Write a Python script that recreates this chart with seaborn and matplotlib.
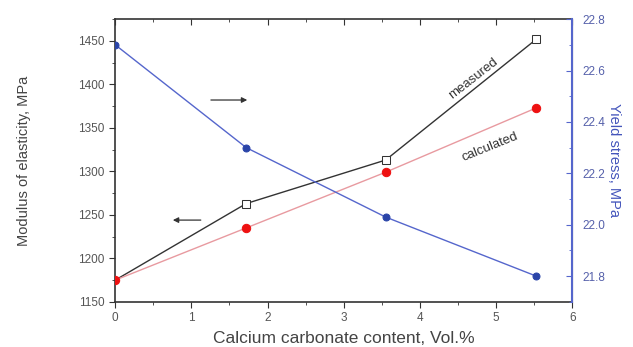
import numpy as np
import pandas as pd
import seaborn as sns
import matplotlib
matplotlib.use('Agg')
import matplotlib.pyplot as plt
from matplotlib.ticker import MultipleLocator

# data
content = [0.0, 1.72, 3.55, 5.53]
measured = [1175, 1263, 1313, 1452]
calculated = [1175, 1235, 1299, 1373]
yield_stress = [22.70, 22.30, 22.03, 21.80]

sns.set_style("ticks")
plt.rcParams['font.family'] = ['Liberation Sans', 'DejaVu Sans']

grey = '#555555'
blue_line = '#5566cc'
blue_dot = '#2a44a8'

fig = plt.figure(figsize=(6.33, 3.47), dpi=100)
ax = fig.add_axes([0.182, 0.130, 0.722, 0.815])

df = pd.DataFrame({'x': content, 'measured': measured, 'calculated': calculated,
                   'ys': yield_stress})

# first measured point sits under the red dot, so no square there
sns.lineplot(data=df, x='x', y='measured', ax=ax, color='#333333', lw=1,
             marker='s', markersize=5.5, markerfacecolor='white',
             markeredgecolor='#333333', markevery=[1, 2, 3], zorder=3)
sns.lineplot(data=df, x='x', y='calculated', ax=ax, color='#e89aa0', lw=1,
             marker='o', markersize=6, markerfacecolor='#ee1111',
             markeredgecolor='#ee1111', zorder=4)

ax.set_xlim(0, 6)
ax.set_ylim(1150, 1475)
ax.xaxis.set_major_locator(MultipleLocator(1))
ax.xaxis.set_minor_locator(MultipleLocator(0.5))
ax.yaxis.set_major_locator(MultipleLocator(50))
ax.yaxis.set_minor_locator(MultipleLocator(25))
ax.tick_params(axis='both', which='both', direction='out', colors='#333333',
               labelcolor=grey, labelsize=8.5)
ax.tick_params(which='major', length=4)
ax.tick_params(which='minor', length=2.5)
ax.tick_params(axis='x', which='both', top=True)
ax.set_xlabel('Calcium carbonate content, Vol.%', color='#444444', fontsize=12.5,
              labelpad=5)
ax.set_ylabel('Modulus of elasticity, MPa', color='#444444', fontsize=10.5, labelpad=34)
for s in ['left', 'bottom', 'top']:
    ax.spines[s].set_color('#333333')
    ax.spines[s].set_linewidth(1.2)

ax2 = ax.twinx()
sns.lineplot(data=df, x='x', y='ys', ax=ax2, color=blue_line, lw=1,
             marker='o', markersize=5, markerfacecolor=blue_dot,
             markeredgecolor=blue_dot, zorder=3)
ax2.set_ylim(21.7, 22.8)
ax2.yaxis.set_minor_locator(MultipleLocator(0.1))
ax2.set_yticks([21.8, 22.0, 22.2, 22.4, 22.6, 22.8])
ax2.set_yticklabels(['21.8', '22.0', '22.2', '22.4', '22.6', '22.8'])
ax2.tick_params(axis='y', which='both', direction='in', colors=blue_line,
                labelcolor='#5560aa', labelsize=8.5, pad=7)
ax2.tick_params(which='major', length=4)
ax2.tick_params(which='minor', length=2.5)
ax2.set_ylabel('Yield stress, MPa', color='#4455bb', fontsize=10.5,
               rotation=270, labelpad=12)
ax2.spines['right'].set_color(blue_line)
ax2.spines['right'].set_linewidth(1.5)
for s in ['left', 'bottom', 'top']:
    ax2.spines[s].set_visible(False)

# top ticks of the main axes point inward
for t in ax.xaxis.get_major_ticks() + ax.xaxis.get_minor_ticks():
    t.tick2line.set_marker(matplotlib.lines.TICKDOWN)

# direction arrows and curve labels
ax.annotate('', xy=(1.77, 1382), xytext=(1.22, 1382),
            arrowprops=dict(arrowstyle='-|>', color='#333333', lw=0.9, mutation_scale=8))
ax.annotate('', xy=(0.72, 1244), xytext=(1.16, 1244),
            arrowprops=dict(arrowstyle='-|>', color='#333333', lw=0.9, mutation_scale=8))
ax.text(4.70, 1407, 'measured', rotation=38, color='#333333', fontsize=9.5,
        ha='center', va='center')
ax.text(4.92, 1328, 'calculated', rotation=22, color='#333333', fontsize=9.5,
        ha='center', va='center')

fig.savefig('out.png', dpi=100)
